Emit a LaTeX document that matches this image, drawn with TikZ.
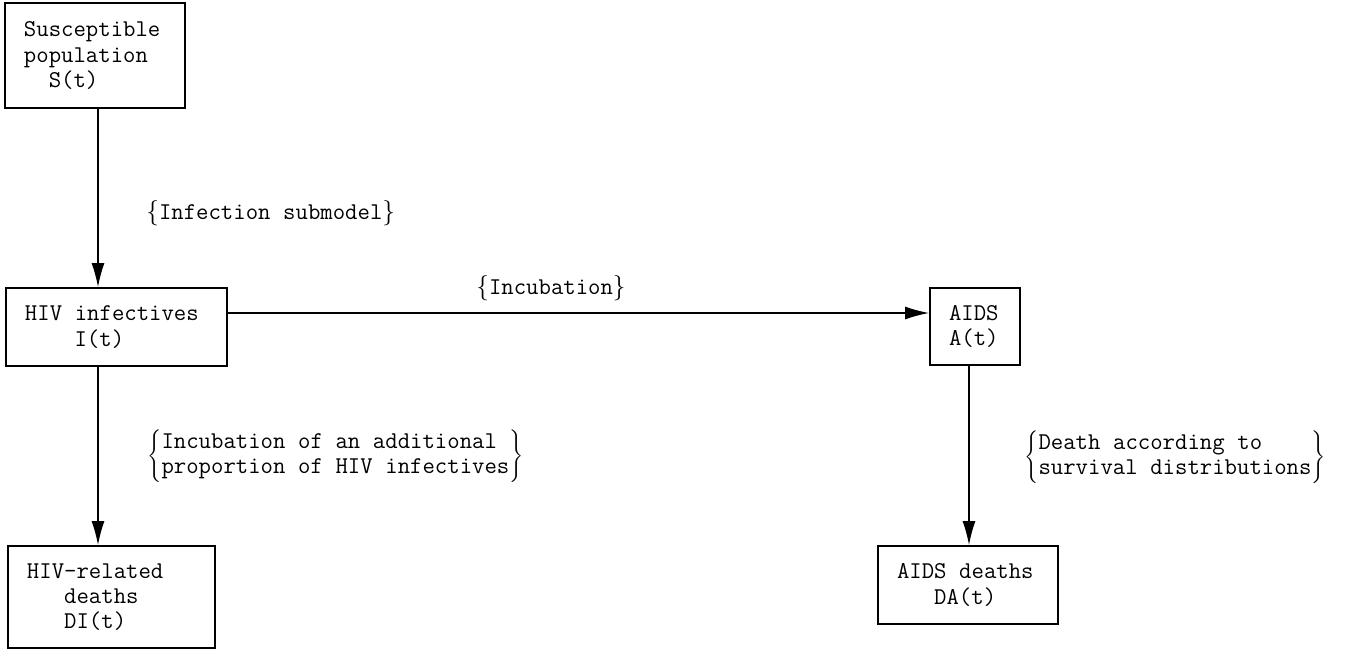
\documentclass[tikz,border=0pt]{standalone}
\usepackage{fontspec}
\usetikzlibrary{arrows.meta}
\tikzset{
  typed/.style={font=\ttfamily\fontsize{13.7}{14.4}\selectfont, execute at begin node={\spaceskip=0.525em\relax}},
  box/.style={typed, draw, line width=1pt, align=left, inner xsep=3.8mm, inner ysep=1mm},
  flow/.style={line width=0.8pt, -{Latex[length=4.8mm,width=2.6mm]}},
  note/.style={typed, anchor=west, inner sep=0pt}
}
\begin{document}
\begin{tikzpicture}[x=0.2mm, y=-0.2mm]
        \useasboundingbox (0,0) rectangle (1349,650);
        \node[box, text width=28.4mm, minimum height=21mm] (S) at (95,55.5) {Susceptible\\population\\\phantom{xx}S(t)};
        \node[box, text width=36.6mm, minimum height=15.6mm] (inf) at (116.5,327) {HIV infectives\\\phantom{xxxx}I(t)};
        \node[box, text width=33.8mm, minimum height=20.4mm] (DI) at (111.5,597) {HIV-related\\\phantom{xxx}deaths\\\phantom{xxx}DI(t)};
        \node[box, text width=10.4mm, minimum height=15.4mm] (aids) at (975,326.5) {AIDS\\A(t)};
        \node[box, text width=28.4mm, minimum height=15.6mm] (DA) at (968,585) {AIDS deaths\\\phantom{xxx}DA(t)};

        \coordinate (colL) at (98,0);
        \coordinate (colR) at (969,0);
        \coordinate (rowM) at (0,313);
        \draw[flow] (S.south -| colL) -- (inf.north -| colL);
        \draw[flow] (inf.south -| colL) -- (DI.north -| colL);
        \draw[flow] (inf.east |- rowM) -- (aids.west |- rowM);
        \draw[flow] (aids.south -| colR) -- (DA.north -| colR);

        % transition labels
        \node[note] (infsub) at (146,213) {$\bigl\{$Infection submodel$\bigr\}$};
        \node[note] (incub) at (476,288) {$\bigl\{$Incubation$\bigr\}$};
        \node[note] (extra) at (147,456) {$\left\{\begin{tabular}{@{}l@{}}Incubation of an additional\\proportion of HIV infectives\end{tabular}\right\}$};
        \node[note] (death) at (1024,457) {$\left\{\begin{tabular}{@{}l@{}}Death according to\\survival distributions\end{tabular}\right\}$};
\end{tikzpicture}
\end{document}
